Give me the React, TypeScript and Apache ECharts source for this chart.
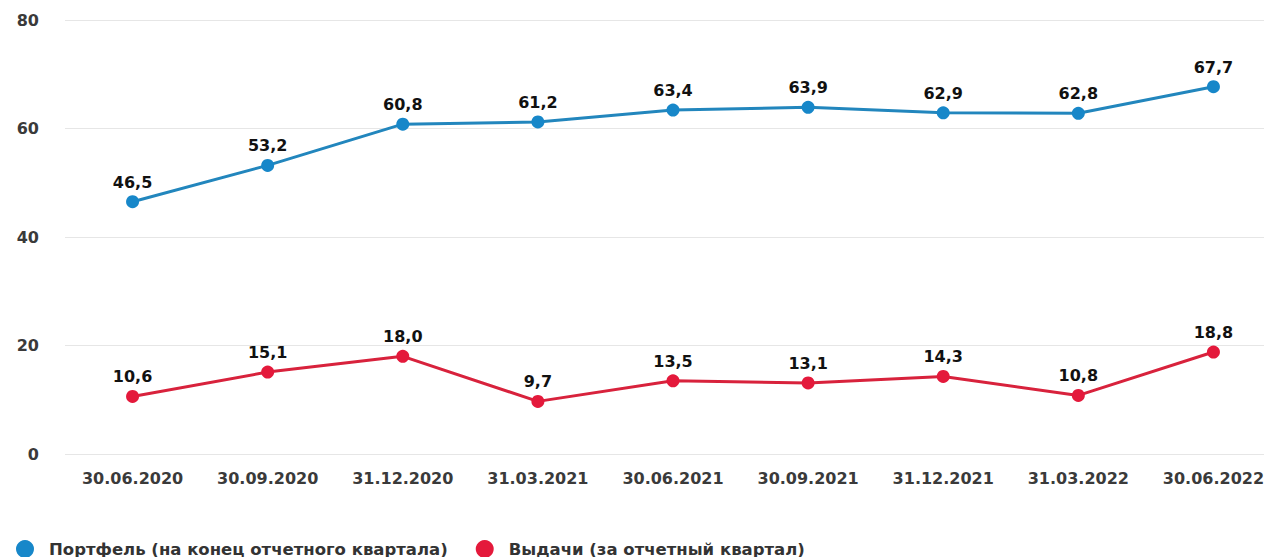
import React, { useEffect, useRef } from "react";
import * as echarts from "echarts";

const categories = ["30.06.2020", "30.09.2020", "31.12.2020", "31.03.2021", "30.06.2021", "30.09.2021", "31.12.2021", "31.03.2022", "30.06.2022"];
const portfolio = [46.5, 53.2, 60.8, 61.2, 63.4, 63.9, 62.9, 62.8, 67.7];
const issuance = [10.6, 15.1, 18.0, 9.7, 13.5, 13.1, 14.3, 10.8, 18.8];
const seriesNames = ["Портфель (на конец отчетного квартала)", "Выдачи (за отчетный квартал)"];
const yTicks = { min: 0, max: 80, interval: 20 };

const FONT = "DejaVu Sans";

export default function App() {
  const ref = useRef<HTMLDivElement>(null);
  useEffect(() => {
    if (!ref.current) return;
    const chart = echarts.init(ref.current, null, { renderer: "svg" });
    const fmt = (p: any) => Number(p.value).toFixed(1).replace(".", ",");
    const labelStyle = {
      show: true,
      position: "top" as const,
      distance: 5,
      formatter: fmt,
      color: "#111",
      fontFamily: FONT,
      fontWeight: "bold" as const,
      fontSize: 16,
    };
    chart.setOption({
      animation: false,
      backgroundColor: "#fff",
      grid: { left: 65, right: 0, top: 20, bottom: 103, containLabel: false },
      legend: {
        left: 11,
        top: 535,
        icon: "circle",
        itemWidth: 18,
        itemHeight: 18,
        itemGap: 28,
        textStyle: { fontFamily: FONT, fontWeight: "bold", fontSize: 16.5, color: "#333", padding: [0, 0, 0, 10] },
        data: seriesNames,
      },
      xAxis: {
        type: "category",
        data: categories,
        boundaryGap: true,
        axisLine: { show: false },
        axisTick: { show: false },
        axisLabel: { margin: 16, color: "#3a3a3a", fontFamily: FONT, fontWeight: "bold", fontSize: 16 },
      },
      yAxis: {
        type: "value",
        min: yTicks.min,
        max: yTicks.max,
        interval: yTicks.interval,
        axisLine: { show: false },
        axisTick: { show: false },
        splitLine: { lineStyle: { color: "#e6e6e6", width: 1 } },
        axisLabel: { margin: 26, color: "#3a3a3a", fontFamily: FONT, fontWeight: "bold", fontSize: 16 },
      },
      series: [
        {
          name: seriesNames[0],
          type: "line",
          data: portfolio,
          symbol: "circle",
          symbolSize: 13,
          itemStyle: { color: "#1787c9" },
          lineStyle: { color: "#2286bd", width: 3 },
          label: labelStyle,
        },
        {
          name: seriesNames[1],
          type: "line",
          data: issuance,
          symbol: "circle",
          symbolSize: 13,
          itemStyle: { color: "#e4193b" },
          lineStyle: { color: "#d8223c", width: 3 },
          label: labelStyle,
        },
      ],
    });
    return () => chart.dispose();
  }, []);
  return (
    <div style={{ position: "fixed", left: 0, top: 0, width: 1264, height: 557, overflow: "hidden", background: "#fff" }}>
      <div ref={ref} style={{ width: 1281, height: 557 }} />
    </div>
  );
}
